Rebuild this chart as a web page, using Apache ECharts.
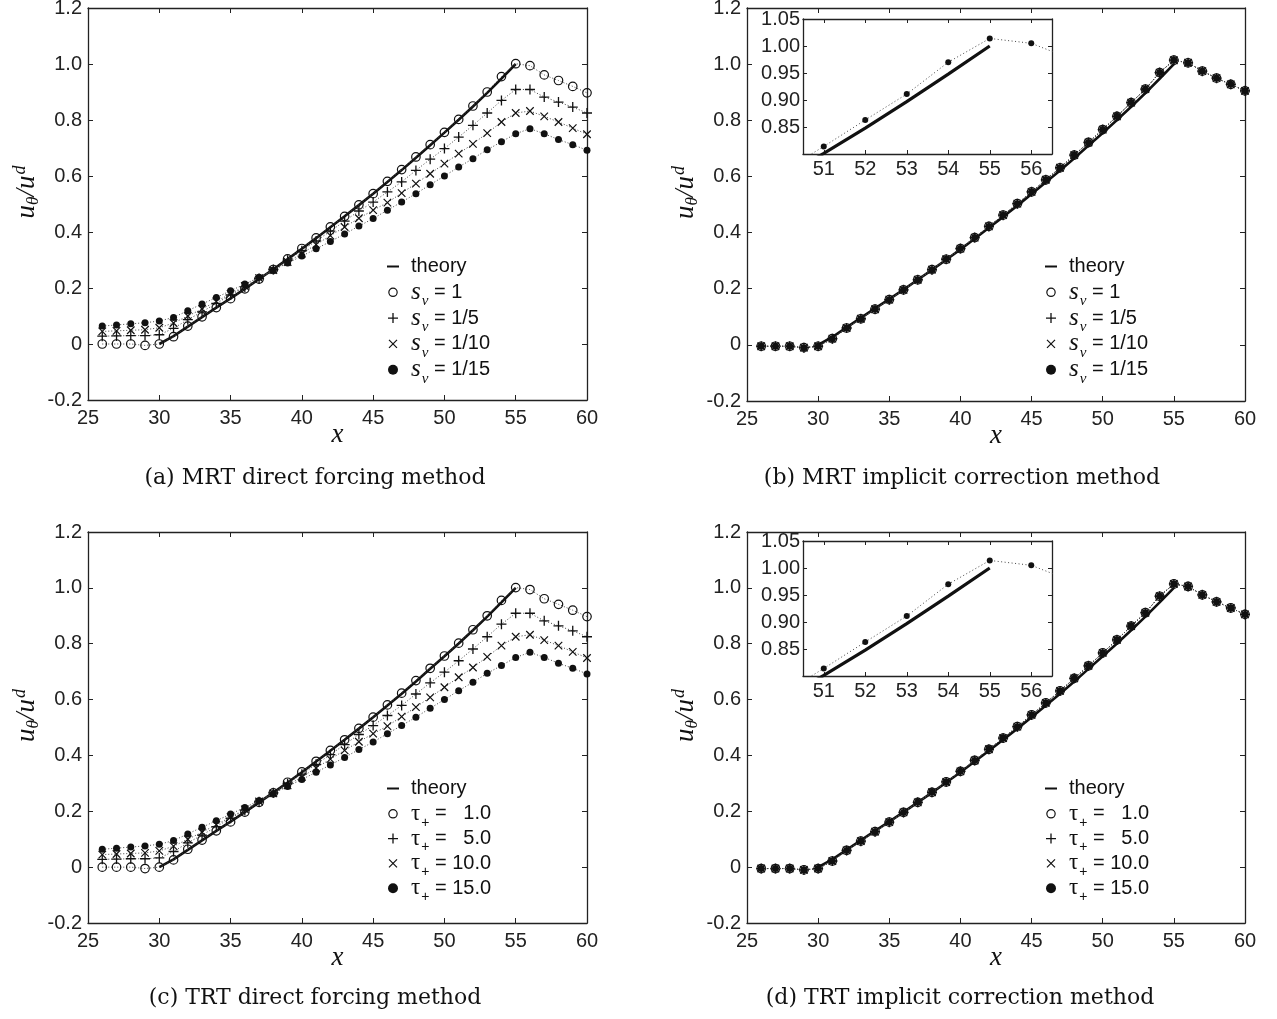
<!DOCTYPE html>
<html>
<head>
<meta charset="utf-8">
<title>Velocity profiles</title>
<script src="https://cdn.jsdelivr.net/npm/echarts@6/dist/echarts.min.js"></script>
<style>
  html, body { margin: 0; padding: 0; background: #ffffff; }
  #chart { width: 1277px; height: 1019px; }
</style>
</head>
<body>
<div id="chart"></div>
<script>
// Lattice nodes along the radial line
const radialNodes = [26, 27, 28, 29, 30, 31, 32, 33, 34, 35, 36, 37, 38, 39, 40, 41, 42,
  43, 44, 45, 46, 47, 48, 49, 50, 51, 52, 53, 54, 55, 56, 57, 58, 59, 60];

// Analytical profile between the two walls
const theoryNodes = [30, 31, 32, 33, 34, 35, 36, 37, 38, 39, 40, 41, 42, 43, 44, 45, 46,
  47, 48, 49, 50, 51, 52, 53, 54, 55];
const theoryValues = [0, 0.028, 0.062, 0.096, 0.130, 0.163, 0.197, 0.232, 0.267, 0.303,
  0.340, 0.378, 0.417, 0.456, 0.496, 0.537, 0.579, 0.621, 0.665, 0.710, 0.755, 0.801,
  0.848, 0.897, 0.948, 1.000];

// Direct forcing: one profile per relaxation setting
const directFirst = [0, 0, 0, -0.005, 0, 0.026, 0.064, 0.097, 0.130, 0.162, 0.197, 0.232,
  0.266, 0.304, 0.341, 0.379, 0.418, 0.456, 0.497, 0.537, 0.581, 0.623, 0.668, 0.712,
  0.756, 0.802, 0.850, 0.900, 0.955, 1.001, 0.994, 0.961, 0.941, 0.920, 0.897];
const directSecond = [0.028, 0.029, 0.030, 0.030, 0.033, 0.056, 0.087, 0.115, 0.145, 0.175,
  0.204, 0.234, 0.266, 0.299, 0.333, 0.368, 0.403, 0.439, 0.475, 0.507, 0.543, 0.579,
  0.620, 0.660, 0.698, 0.739, 0.781, 0.825, 0.870, 0.909, 0.909, 0.882, 0.864, 0.846, 0.825];
const directThird = [0.045, 0.047, 0.049, 0.051, 0.058, 0.075, 0.100, 0.125, 0.152, 0.179,
  0.207, 0.235, 0.264, 0.293, 0.323, 0.355, 0.387, 0.418, 0.449, 0.478, 0.505, 0.539,
  0.573, 0.608, 0.644, 0.680, 0.715, 0.753, 0.793, 0.825, 0.832, 0.813, 0.793, 0.771, 0.749];
const directFourth = [0.064, 0.068, 0.072, 0.076, 0.082, 0.095, 0.119, 0.143, 0.166, 0.190,
  0.214, 0.238, 0.264, 0.289, 0.314, 0.340, 0.366, 0.393, 0.421, 0.448, 0.478, 0.507,
  0.537, 0.569, 0.600, 0.632, 0.662, 0.694, 0.722, 0.751, 0.769, 0.751, 0.730, 0.712, 0.692];

// Implicit correction: the four settings give the same profile
const implicitValues = [-0.005, -0.005, -0.005, -0.010, -0.005, 0.022, 0.060, 0.093, 0.127,
  0.161, 0.196, 0.232, 0.268, 0.305, 0.343, 0.382, 0.422, 0.462, 0.503, 0.545, 0.588,
  0.631, 0.676, 0.721, 0.767, 0.814, 0.863, 0.911, 0.970, 1.014, 1.005, 0.975, 0.950,
  0.928, 0.905];

// Tick values
const xTicks = [25, 30, 35, 40, 45, 50, 55, 60];
const yTicks = [-0.2, 0, 0.2, 0.4, 0.6, 0.8, 1.0, 1.2];
const insetXTicks = [51, 52, 53, 54, 55, 56];
const insetYTickMarks = [0.80, 0.85, 0.90, 0.95, 1.00, 1.05];
const insetYTickLabels = [0.85, 0.90, 0.95, 1.00, 1.05];

// Series names and their legend text
const mrtNames = ['s_v = 1', 's_v = 1/5', 's_v = 1/10', 's_v = 1/15'];
const trtNames = ['tau = 1.0', 'tau = 5.0', 'tau = 10.0', 'tau = 15.0'];
const legendRich = {
  'theory': '{t|theory}{ghost|v}',
  's_v = 1': '{it|s}{sub|ν}{t| = 1}',
  's_v = 1/5': '{it|s}{sub|ν}{t| = 1/5}',
  's_v = 1/10': '{it|s}{sub|ν}{t| = 1/10}',
  's_v = 1/15': '{it|s}{sub|ν}{t| = 1/15}',
  'tau = 1.0': '{tau|τ}{subp|+}{t| =   1.0}',
  'tau = 5.0': '{tau|τ}{subp|+}{t| =   5.0}',
  'tau = 10.0': '{tau|τ}{subp|+}{t| = 10.0}',
  'tau = 15.0': '{tau|τ}{subp|+}{t| = 15.0}'
};

const captions = [
  '(a) MRT direct forcing method',
  '(b) MRT implicit correction method',
  '(c) TRT direct forcing method',
  '(d) TRT implicit correction method'
];

const INK = '#111';
const AXIS = '#222';
const SANS = 'Liberation Sans';
const SERIF = 'Liberation Serif';

function pairs(xs, ys) { return xs.map((x, i) => [x, ys[i]]); }

const markers = [
  { symbol: 'circle', size: 8.5, item: { color: 'transparent', borderColor: INK, borderWidth: 1.2 },
    icon: 'path://M-1,-1M11,11M10,5A5,5,0,1,1,0,5A5,5,0,1,1,10,5Z' },
  { symbol: 'path://M5,0V10M0,5H10', size: 10, item: { color: 'transparent', borderColor: INK, borderWidth: 1.3 },
    icon: 'path://M5,0V10M0,5H10' },
  { symbol: 'path://M0,0L10,10M10,0L0,10', size: 7.5, item: { color: 'transparent', borderColor: INK, borderWidth: 1.2 },
    icon: 'path://M0,0M10,10M1,1L9,9M9,1L1,9' },
  { symbol: 'circle', size: 7, item: { color: INK, borderWidth: 0 }, icon: 'circle' }
];
const theoryIcon = 'path://M-7,0M0,0H12V2H0ZM19,2';

const panels = [
  { grid: { left: 88, top: 8, width: 499, height: 392 },
    sets: [directFirst, directSecond, directThird, directFourth], names: mrtNames,
    legend: { left: 380, top: 250 }, caption: { x: 315, y: 478 } },
  { grid: { left: 747, top: 8, width: 498, height: 393 },
    sets: [implicitValues, implicitValues, implicitValues, implicitValues], names: mrtNames,
    legend: { left: 1038, top: 250 }, caption: { x: 962, y: 478 },
    inset: { left: 803, top: 19, width: 249, height: 135 } },
  { grid: { left: 88, top: 532, width: 499, height: 391 },
    sets: [directFirst, directSecond, directThird, directFourth], names: trtNames,
    legend: { left: 380, top: 772 }, caption: { x: 315, y: 998 } },
  { grid: { left: 747, top: 532, width: 498, height: 391 },
    sets: [implicitValues, implicitValues, implicitValues, implicitValues], names: trtNames,
    legend: { left: 1038, top: 772 }, caption: { x: 960, y: 998 },
    inset: { left: 803, top: 541, width: 249, height: 135 } }
];

const grids = [], xAxes = [], yAxes = [], series = [], legends = [], graphics = [];

function axisBase(ticks, labelTicks, showLabel, fmt, margin, tickLen) {
  return {
    type: 'value',
    axisLine: { show: true, onZero: false, lineStyle: { color: AXIS, width: 1.3 } },
    axisTick: { show: true, inside: true, length: tickLen, customValues: ticks,
      lineStyle: { color: AXIS, width: 1 } },
    axisLabel: { show: showLabel, customValues: labelTicks, formatter: fmt, margin: margin,
      color: AXIS, fontFamily: SANS, fontSize: 20, hideOverlap: false },
    splitLine: { show: false },
    nameMoveOverlap: false
  };
}

const fmtMainY = v => (Math.abs(v) < 1e-9 ? '0' : v.toFixed(1));
const fmtInt = v => String(Math.round(v));
const fmtInsetY = v => v.toFixed(2);

const yNameRich = {
  u: { fontFamily: SERIF, fontStyle: 'italic', fontSize: 27, lineHeight: 26, color: INK },
  sub: { fontFamily: SERIF, fontStyle: 'italic', fontSize: 17, lineHeight: 26, color: INK, padding: [14, 0, 0, 0] },
  sup: { fontFamily: SERIF, fontStyle: 'italic', fontSize: 18, lineHeight: 26, color: INK, padding: [0, 0, 13, 1] }
};

function addBox(g, xr, yr, xt, xl, yt, yl, fy, opts) {
  const gi = grids.length;
  grids.push(Object.assign({ outerBoundsMode: 'none', containLabel: false }, g,
    opts.background ? { show: true, backgroundColor: '#ffffff', borderWidth: 0, z: 5 } : {}));
  const xi = xAxes.length, yi = yAxes.length;
  const zz = opts.background ? 6 : 0;
  xAxes.push(Object.assign(axisBase(xt, xl, true, fmtInt, opts.labelMargin, opts.tickLen), {
    gridIndex: gi, position: 'bottom', min: xr[0], max: xr[1], z: zz
  }, opts.xName ? {
    name: 'x', nameLocation: 'middle', nameGap: 21,
    nameTextStyle: { fontFamily: SERIF, fontStyle: 'italic', fontSize: 27, color: INK }
  } : {}));
  xAxes.push(Object.assign(axisBase(xt, xl, false, fmtInt, 8, opts.tickLen), {
    gridIndex: gi, position: 'top', min: xr[0], max: xr[1], z: zz
  }));
  yAxes.push(Object.assign(axisBase(yt, yl, true, fy, opts.labelMargin - 2, opts.tickLen), {
    gridIndex: gi, position: 'left', min: yr[0], max: yr[1], z: zz
  }, opts.yName ? {
    name: '{u|u}{sub|θ}{u|/u}{sup|d}', nameLocation: 'middle', nameGap: 48, nameRotate: 90,
    nameTextStyle: { rich: yNameRich, padding: [0, 0, 0, 24] }
  } : {}));
  yAxes.push(Object.assign(axisBase(yt, yl, false, fy, 8, opts.tickLen), {
    gridIndex: gi, position: 'right', min: yr[0], max: yr[1], z: zz
  }));
  return { xi, yi };
}

const legendTextRich = {
  t: { fontFamily: SANS, fontSize: 20, lineHeight: 22, color: INK },
  it: { fontFamily: SERIF, fontStyle: 'italic', fontSize: 25, lineHeight: 22, color: INK },
  sub: { fontFamily: SERIF, fontStyle: 'italic', fontSize: 15, lineHeight: 22, color: INK, padding: [18, 0, 0, 1] },
  ghost: { fontFamily: SERIF, fontStyle: 'italic', fontSize: 15, lineHeight: 22, color: 'transparent', padding: [18, 0, 0, 1] },
  tau: { fontFamily: SERIF, fontSize: 23, lineHeight: 22, color: INK },
  subp: { fontFamily: SANS, fontSize: 14, lineHeight: 22, color: INK, padding: [18, 0, 0, 1] }
};

panels.forEach((p, pi) => {
  const ax = addBox(p.grid, [25, 60], [-0.2, 1.2], xTicks, xTicks, yTicks, yTicks, fmtMainY,
    { labelMargin: 8, tickLen: 5, xName: true, yName: true });

  series.push({
    type: 'line', name: 'theory', xAxisIndex: ax.xi, yAxisIndex: ax.yi,
    data: pairs(theoryNodes, theoryValues), showSymbol: false,
    lineStyle: { color: INK, width: 2.6 }, z: 2, emphasis: { disabled: true }
  });
  p.sets.forEach((vals, k) => {
    const m = markers[k];
    series.push({
      type: 'line', name: p.names[k], xAxisIndex: ax.xi, yAxisIndex: ax.yi,
      data: pairs(radialNodes, vals), symbol: m.symbol, symbolSize: m.size,
      showSymbol: true, showAllSymbol: true, itemStyle: m.item,
      lineStyle: { color: '#444', width: 1, type: [1, 2] }, z: 3 + k,
      emphasis: { disabled: true }
    });
  });

  legends.push({
    orient: 'vertical', left: p.legend.left, top: p.legend.top, padding: 0,
    itemWidth: 26, itemHeight: 10, itemGap: -7.2, align: 'left', selectedMode: false,
    data: [{ name: 'theory', icon: theoryIcon, itemStyle: { color: INK, borderWidth: 0 } }]
      .concat(p.names.map((n, k) => ({ name: n, icon: markers[k].icon, itemStyle: markers[k].item }))),
    formatter: n => legendRich[n] || n,
    textStyle: { color: INK, rich: legendTextRich }
  });

  if (p.inset) {
    const ix = addBox(p.inset, [50.5, 56.5], [0.80, 1.05], insetXTicks, insetXTicks,
      insetYTickMarks, insetYTickLabels, fmtInsetY,
      { labelMargin: 5, tickLen: 4, background: true });
    series.push({
      type: 'line', name: 'theory-zoom', xAxisIndex: ix.xi, yAxisIndex: ix.yi,
      data: pairs(theoryNodes, theoryValues), showSymbol: false, clip: true,
      lineStyle: { color: INK, width: 3.2 }, z: 8, emphasis: { disabled: true }
    });
    series.push({
      type: 'line', name: 'profile-zoom', xAxisIndex: ix.xi, yAxisIndex: ix.yi,
      data: pairs(radialNodes, implicitValues), symbol: 'circle', symbolSize: 6,
      showSymbol: true, showAllSymbol: true, clip: true,
      itemStyle: { color: INK, borderWidth: 0 },
      lineStyle: { color: '#444', width: 1, type: [1, 2.5] }, z: 9, emphasis: { disabled: true }
    });
  }

  graphics.push({
    type: 'text', x: p.caption.x, y: p.caption.y, z: 10,
    style: { text: captions[pi], font: '22px "DejaVu Serif"', fill: INK, align: 'center', verticalAlign: 'middle' }
  });
});

const chart = echarts.init(document.getElementById('chart'), null, { renderer: 'canvas' });
chart.setOption({
  backgroundColor: '#ffffff',
  animation: false,
  tooltip: { show: false },
  grid: grids,
  xAxis: xAxes,
  yAxis: yAxes,
  legend: legends,
  series: series,
  graphic: graphics
});
</script>
</body>
</html>
